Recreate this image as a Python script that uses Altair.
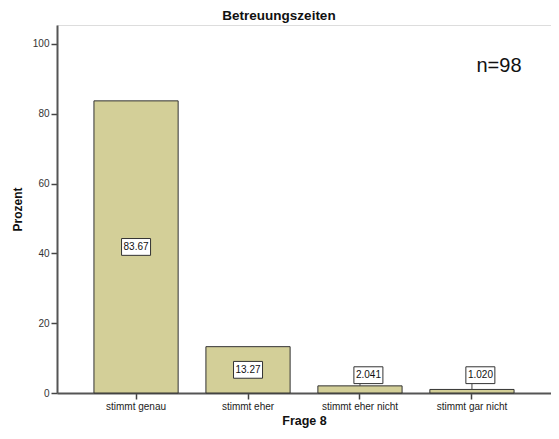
import altair as alt
import pandas as pd

categories = ["stimmt genau", "stimmt eher", "stimmt eher nicht", "stimmt gar nicht"]
values = [83.67, 13.27, 2.041, 1.020]
label_texts = ["83.67", "13.27", "2.041", "1.020"]

FONT = "Liberation Sans"
BAR_FILL = "#d3cf98"

small_label_y = 5.1
rows = []
for c, v, t in zip(categories, values, label_texts):
    inside = v / 2 > small_label_y
    rows.append({
        "cat": c,
        "val": v,
        "txt": t,
        "ly": v / 2 if inside else small_label_y,
        "inside": inside,
        "lead_top": small_label_y - 2.4,
    })
df = pd.DataFrame(rows)

x_enc = alt.X("cat:N", sort=categories,
              scale=alt.Scale(paddingInner=0.248, paddingOuter=0.33),
              axis=alt.Axis(title="Frage 8", labelAngle=0, labelFont=FONT, labelFontSize=10,
                            labelColor="#222", titleFont=FONT, titleFontSize=12.5, titleFontWeight="bold",
                            titleColor="#111", domainColor="#555", domainWidth=2, tickColor="#444",
                            tickSize=6, tickWidth=1.5, labelPadding=2, titlePadding=3))
y_scale = alt.Scale(domain=[0, 105.4], nice=False)
y_enc = alt.Y("val:Q", scale=y_scale,
              axis=alt.Axis(title="Prozent", values=[0, 20, 40, 60, 80, 100], grid=False,
                            labelFont=FONT, labelFontSize=10, labelColor="#333",
                            titleFont=FONT, titleFontSize=12, titleFontWeight="bold", titleColor="#111",
                            domainColor="#555", domainWidth=2, tickColor="#444", tickSize=6,
                            tickWidth=1.5, labelPadding=2, titlePadding=8))

base = alt.Chart(df)

bars = base.mark_bar(fill=BAR_FILL, stroke="#333", strokeWidth=1).encode(x=x_enc, y=y_enc)

inside_df = base.transform_filter("datum.inside")
outside_df = base.transform_filter("!datum.inside")

box_in = inside_df.mark_point(
    shape="M-1,-0.58L1,-0.58L1,0.58L-1,0.58Z", size=841, filled=True,
    fill="white", stroke="#333", strokeWidth=1, opacity=1
).encode(x=alt.X("cat:N", sort=categories), y=alt.Y("ly:Q", scale=y_scale))
txt_in = inside_df.mark_text(font=FONT, fontSize=10, color="#111").encode(
    x=alt.X("cat:N", sort=categories), y=alt.Y("ly:Q", scale=y_scale), text="txt:N")

lead = outside_df.mark_rule(color="#444", strokeWidth=1).encode(
    x=alt.X("cat:N", sort=categories), y=alt.Y("val:Q", scale=y_scale), y2="lead_top:Q")
box_out = outside_df.mark_point(
    shape="M-0.42,-0.58L1.58,-0.58L1.58,0.58L-0.42,0.58Z", size=841, filled=True,
    fill="white", stroke="#333", strokeWidth=1, opacity=1
).encode(x=alt.X("cat:N", sort=categories), y=alt.Y("ly:Q", scale=y_scale))
txt_out = outside_df.mark_text(font=FONT, fontSize=10, color="#111", dx=8.5).encode(
    x=alt.X("cat:N", sort=categories), y=alt.Y("ly:Q", scale=y_scale), text="txt:N")

n_text = alt.Chart(pd.DataFrame({"t": ["n=98"]})).mark_text(
    font=FONT, fontSize=20, color="#111", align="center", baseline="middle"
).encode(x=alt.value(442), y=alt.value(41), text="t:N")

chart = alt.layer(bars, lead, box_in, txt_in, box_out, txt_out, n_text).properties(
    width=494, height=368,
    title=alt.TitleParams("Betreuungszeiten", font=FONT, fontSize=13.5, fontWeight="bold",
                          color="#111", anchor="middle", frame="group", dx=-25, offset=3),
    autosize=alt.AutoSizeParams(type="none"),
    padding={"left": 49, "top": 17, "right": 0, "bottom": 37},
).configure_view(fill="#f0f0f0", stroke="#8c8c8c", strokeWidth=2).configure(background="white")

chart.save("out.html", embed_options={"renderer": "svg", "actions": False})
